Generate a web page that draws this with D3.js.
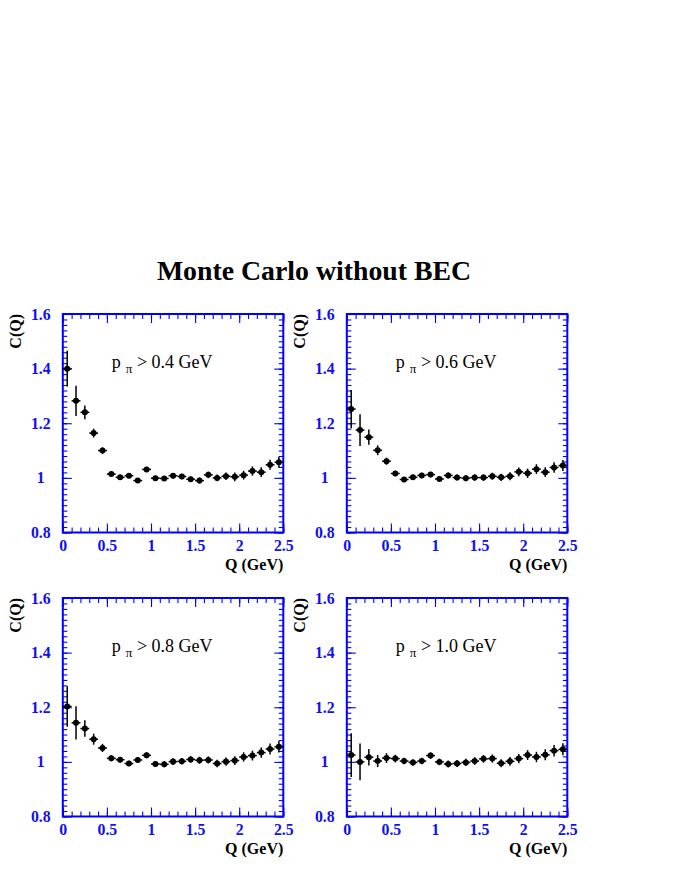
<!DOCTYPE html>
<html>
<head>
<meta charset="utf-8">
<script src="https://cdn.jsdelivr.net/npm/d3@7"></script>
<style>
  html, body { margin: 0; padding: 0; background: #fff; }
  svg { display: block; }
</style>
</head>
<body>
<svg id="chart" width="680" height="880"></svg>
<script>
// ---- data ----
const title = "Monte Carlo without BEC";
const qCenters = [0.05,0.15,0.25,0.35,0.45,0.55,0.65,0.75,0.85,0.95,1.05,1.15,1.25,1.35,1.45,1.55,1.65,1.75,1.85,1.95,2.05,2.15,2.25,2.35,2.45];
const binHalfWidth = 0.05;
const cutLabels = ["0.4", "0.6", "0.8", "1.0"];

const c04 = [1.400,1.282,1.240,1.164,1.100,1.014,1.002,1.008,0.990,1.031,0.999,0.998,1.008,1.005,0.995,0.990,1.011,1.000,1.006,1.004,1.010,1.025,1.021,1.048,1.057];
const e04 = [0.065,0.055,0.025,0.016,0.012,0.008,0.008,0.008,0.008,0.009,0.009,0.009,0.010,0.010,0.010,0.011,0.012,0.012,0.014,0.016,0.016,0.017,0.018,0.018,0.020];

const c06 = [1.252,1.175,1.149,1.101,1.061,1.016,0.994,1.002,1.009,1.012,0.996,1.009,1.001,0.999,1.001,1.001,1.006,1.002,1.006,1.022,1.017,1.032,1.021,1.038,1.045];
const e06 = [0.070,0.058,0.028,0.018,0.013,0.010,0.009,0.009,0.010,0.010,0.010,0.011,0.011,0.011,0.012,0.012,0.013,0.013,0.015,0.016,0.017,0.018,0.018,0.019,0.020];

const c08 = [1.203,1.143,1.122,1.083,1.051,1.013,1.008,0.994,1.007,1.024,0.992,0.991,1.001,1.002,1.009,1.006,1.007,0.994,1.001,1.005,1.018,1.023,1.034,1.047,1.055];
const e08 = [0.074,0.061,0.030,0.020,0.015,0.011,0.010,0.010,0.010,0.011,0.011,0.011,0.012,0.012,0.012,0.013,0.013,0.014,0.015,0.016,0.017,0.018,0.019,0.020,0.021];

const c10 = [1.025,1.000,1.017,1.003,1.014,1.012,1.003,0.998,1.003,1.023,1.000,0.992,0.994,0.998,1.003,1.011,1.012,0.995,1.002,1.012,1.025,1.018,1.026,1.041,1.046];
const e10 = [0.080,0.067,0.030,0.022,0.018,0.014,0.012,0.012,0.012,0.012,0.012,0.013,0.013,0.013,0.014,0.014,0.015,0.015,0.016,0.017,0.018,0.019,0.020,0.021,0.022];

const xTickValues = [0, 0.5, 1, 1.5, 2, 2.5];
const xTickLabels = ["0", "0.5", "1", "1.5", "2", "2.5"];
const yTickValues = [0.8, 1.0, 1.2, 1.4, 1.6];
const yTickLabels = ["0.8", "1", "1.2", "1.4", "1.6"];
const xLabel = "Q (GeV)";
const yLabel = "C(Q)";

const panelValues = [c04, c06, c08, c10];
const panelErrors = [e04, e06, e08, e10];

// ---- layout ----
const svg = d3.select("#chart");
const SERIF = "'Liberation Serif', 'DejaVu Serif', 'Times New Roman', serif";
const BLUE = "#0000ff";
const LABEL_BLUE = "#1010ee";
const W = 220.5, H = 218.5;
const lefts = [62.8, 346.8];
const tops = [314, 598];

svg.append("text")
  .attr("x", 314).attr("y", 280)
  .attr("text-anchor", "middle")
  .attr("font-family", SERIF)
  .attr("font-weight", "bold")
  .attr("font-size", 27.8)
  .attr("fill", "#000")
  .text(title);

const x = d3.scaleLinear().domain([0, 2.5]).range([0, W]);
const y = d3.scaleLinear().domain([0.8, 1.6]).range([H, 0]);

panelValues.forEach((vals, i) => {
  const errs = panelErrors[i];
  const g = svg.append("g")
    .attr("transform", `translate(${lefts[i % 2]},${tops[Math.floor(i / 2)]})`);

  // minor ticks
  const minorX = d3.range(0, 26).map(k => k / 10);
  const minorY = d3.range(0, 41).map(k => 0.8 + k * 0.02);

  const axes = [
    d3.axisBottom(x).tickValues(minorX).tickSize(-5).tickSizeOuter(0).tickFormat(""),
    d3.axisTop(x).tickValues(minorX).tickSize(-5).tickSizeOuter(0).tickFormat(""),
    d3.axisLeft(y).tickValues(minorY).tickSize(-4.5).tickSizeOuter(0).tickFormat(""),
    d3.axisRight(y).tickValues(minorY).tickSize(-4.5).tickSizeOuter(0).tickFormat(""),
    d3.axisTop(x).tickValues(xTickValues).tickSize(-9).tickSizeOuter(0).tickFormat(""),
    d3.axisRight(y).tickValues(yTickValues).tickSize(-9).tickSizeOuter(0).tickFormat("")
  ];
  const trans = ["translate(0," + H + ")", null, null, "translate(" + W + ",0)", null, "translate(" + W + ",0)"];
  axes.forEach((ax, k) => {
    const a = g.append("g").call(ax);
    if (trans[k]) a.attr("transform", trans[k]);
    a.select(".domain").remove();
    a.selectAll("line").attr("stroke", BLUE).attr("stroke-width", 1.1);
  });

  // major bottom with labels
  const xb = g.append("g")
    .attr("transform", `translate(0,${H})`)
    .call(d3.axisBottom(x).tickValues(xTickValues).tickSize(-9).tickSizeOuter(0).tickPadding(7)
      .tickFormat((d, j) => xTickLabels[j]));
  xb.select(".domain").remove();
  xb.selectAll("line").attr("stroke", BLUE).attr("stroke-width", 1.1);
  xb.selectAll("text")
    .attr("font-weight", "bold").attr("font-size", 15.8)
    .attr("fill", LABEL_BLUE);

  // major left with labels
  const yl = g.append("g")
    .call(d3.axisLeft(y).tickValues(yTickValues).tickSize(-9).tickSizeOuter(0)
      .tickFormat((d, j) => yTickLabels[j]));
  yl.select(".domain").remove();
  yl.selectAll("line").attr("stroke", BLUE).attr("stroke-width", 1.1);
  yl.selectAll("text")
    .attr("x", -22).attr("text-anchor", "middle")
    .attr("font-weight", "bold").attr("font-size", 15.8)
    .attr("fill", LABEL_BLUE);
  g.selectAll("g").attr("font-family", null).attr("font-size", null);
  g.selectAll(".tick text").style("font-family", SERIF);

  // frame
  g.append("rect")
    .attr("x", 0).attr("y", 0).attr("width", W).attr("height", H)
    .attr("fill", "none").attr("stroke", BLUE).attr("stroke-width", 2);

  // axis titles
  g.append("text")
    .attr("transform", `translate(-42,0) rotate(-90)`)
    .attr("text-anchor", "end")
    .attr("font-family", SERIF).attr("font-weight", "bold").attr("font-size", 16)
    .attr("fill", "#000")
    .text(yLabel);
  g.append("text")
    .attr("x", W).attr("y", H + 37)
    .attr("text-anchor", "end")
    .attr("font-family", SERIF).attr("font-weight", "bold").attr("font-size", 16)
    .attr("fill", "#000")
    .text(xLabel);

  // panel label
  const lab = g.append("text")
    .attr("x", 49).attr("y", 54)
    .attr("font-family", SERIF).attr("font-size", 18)
    .attr("fill", "#000");
  lab.append("tspan").text("p");
  lab.append("tspan").attr("dy", 5).attr("font-size", 13).attr("dx", 5).text("π");
  lab.append("tspan").attr("dy", -5).text(" > " + cutLabels[i] + " GeV");

  // data: error bars and markers
  const pts = qCenters.map((q, j) => ({ q, v: vals[j], e: errs[j] }));
  const data = g.append("g");
  data.selectAll("line.ex").data(pts).join("line")
    .attr("class", "ex")
    .attr("x1", d => x(d.q - binHalfWidth)).attr("x2", d => x(d.q + binHalfWidth))
    .attr("y1", d => y(d.v)).attr("y2", d => y(d.v))
    .attr("stroke", "#000").attr("stroke-width", 1.5);
  data.selectAll("line.ey").data(pts).join("line")
    .attr("class", "ey")
    .attr("x1", d => x(d.q)).attr("x2", d => x(d.q))
    .attr("y1", d => y(d.v - d.e)).attr("y2", d => y(d.v + d.e))
    .attr("stroke", "#000").attr("stroke-width", 1.5);
  data.selectAll("circle").data(pts).join("circle")
    .attr("cx", d => x(d.q)).attr("cy", d => y(d.v)).attr("r", 3)
    .attr("fill", "#000");
});
</script>
</body>
</html>
